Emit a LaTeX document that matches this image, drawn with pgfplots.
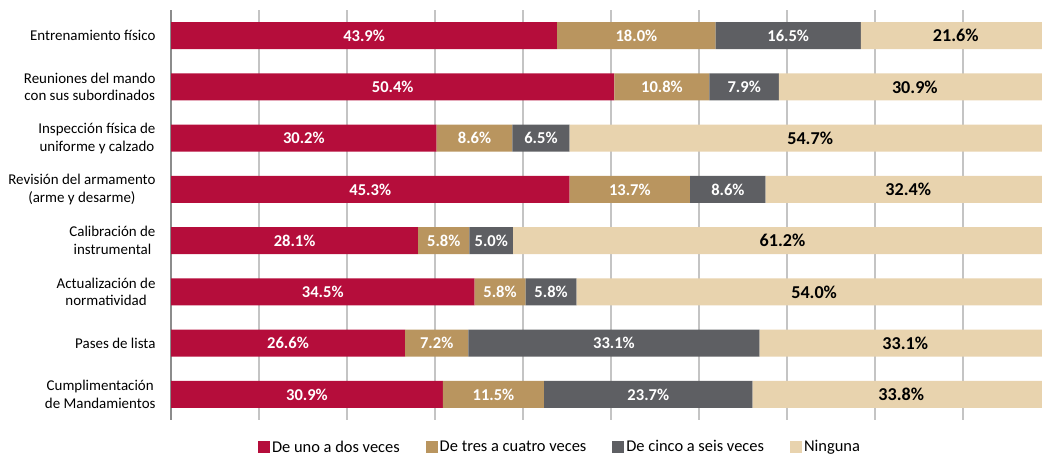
\documentclass[border=0pt]{standalone}
\usepackage{fontspec}
\setmainfont{Carlito}
\usepackage{pgfplots}
\usepackage{pgfplotstable}
\pgfplotsset{compat=1.18}
\definecolor{cA}{HTML}{B50D3B}
\definecolor{cB}{HTML}{B9955F}
\definecolor{cC}{HTML}{5E5F63}
\definecolor{cD}{HTML}{E8D3AE}
\definecolor{gridc}{HTML}{C4C4C4}
\definecolor{axc}{HTML}{8C8C8C}
\tikzset{
  lblw/.style={text=white,font=\fontsize{16.6}{16}\selectfont\bfseries},
  lblk/.style={text=black,font=\fontsize{18.2}{16}\selectfont\bfseries},
}
\pgfplotstableread{
idx a b c d
0 43.9 18.0 16.5 21.6
1 50.4 10.8 7.9 30.9
2 30.2 8.6 6.5 54.7
3 45.3 13.7 8.6 32.4
4 28.1 5.8 5.0 61.2
5 34.5 5.8 5.8 54.0
6 26.6 7.2 33.1 33.1
7 30.9 11.5 23.7 33.8
}\data
\def\labelnodes{}
\pgfplotsforeachungrouped \i in {0,...,7}{%
  \pgfplotstablegetelem{\i}{a}\of\data \let\va\pgfplotsretval
  \pgfplotstablegetelem{\i}{b}\of\data \let\vb\pgfplotsretval
  \pgfplotstablegetelem{\i}{c}\of\data \let\vc\pgfplotsretval
  \pgfplotstablegetelem{\i}{d}\of\data \let\vd\pgfplotsretval
  \pgfmathsetmacro\pa{\va/2}%
  \pgfmathsetmacro\pb{\va+\vb/2}%
  \pgfmathsetmacro\pc{\va+\vb+\vc/2}%
  \pgfmathsetmacro\pd{\va+\vb+\vc+\vd/2}%
  \xdef\labelnodes{\unexpanded\expandafter{\labelnodes}%
    \noexpand\node[lblw] at (axis cs:\pa,\i) {\va\noexpand\%};
    \noexpand\node[lblw] at (axis cs:\pb,\i) {\vb\noexpand\%};
    \noexpand\node[lblw] at (axis cs:\pc,\i) {\vc\noexpand\%};
    \noexpand\node[lblk] at (axis cs:\pd,\i) {\vd\noexpand\%};}%
}
\begin{document}
\begin{tikzpicture}[font=\fontsize{15}{18}\selectfont]
\useasboundingbox (0,0) rectangle (1042bp,456bp);
\begin{axis}[
  at={(171bp,36bp)}, anchor=south west,
  scale only axis, width=871bp, height=410bp,
  xbar stacked, reverse stacked plots=false, bar width=27bp,
  xmin=0, xmax=99, ymin=-0.5, ymax=7.5, y dir=reverse,
  axis lines=left,
  axis line style={-},
  x axis line style={draw=none},
  y axis line style={draw=axc, line width=1.5bp},
  xtick={0,10,...,90}, xticklabels={},
  xmajorgrids, grid style={color=gridc, line width=1.5bp},
  major tick length=0pt,
  ytick={0,...,7},
  yticklabels={Entrenamiento físico,
    {Reuniones del mando\\con sus subordinados},
    {Inspección física de\\uniforme y calzado},
    {Revisión del armamento\\(arme y desarme)},
    {Calibración de\\instrumental},
    {Actualización de\\normatividad},
    Pases de lista,
    {Cumplimentación\\de Mandamientos}},
  yticklabel style={align=center, xshift=-12bp, font=\fontsize{15}{18}\selectfont},
  legend columns=4,
  legend style={draw=none, at={(0.4466,-0.066)}, anchor=center,
    font=\fontsize{16.5}{18}\selectfont,
    /tikz/every even column/.append style={column sep=24bp},
    inner sep=0pt},
  legend image code/.code={\fill[#1] (0bp,-6bp) rectangle (12bp,6bp);},
]
\addplot[fill=cA, draw=none] table[x=a, y=idx] {\data};
\addlegendentry{De uno a dos veces}
\addplot[fill=cB, draw=none] table[x=b, y=idx] {\data};
\addlegendentry{De tres a cuatro veces}
\addplot[fill=cC, draw=none] table[x=c, y=idx] {\data};
\addlegendentry{De cinco a seis veces}
\addplot[fill=cD, draw=none] table[x=d, y=idx] {\data};
\addlegendentry{Ninguna}
\labelnodes
\end{axis}
\end{tikzpicture}
\end{document}
